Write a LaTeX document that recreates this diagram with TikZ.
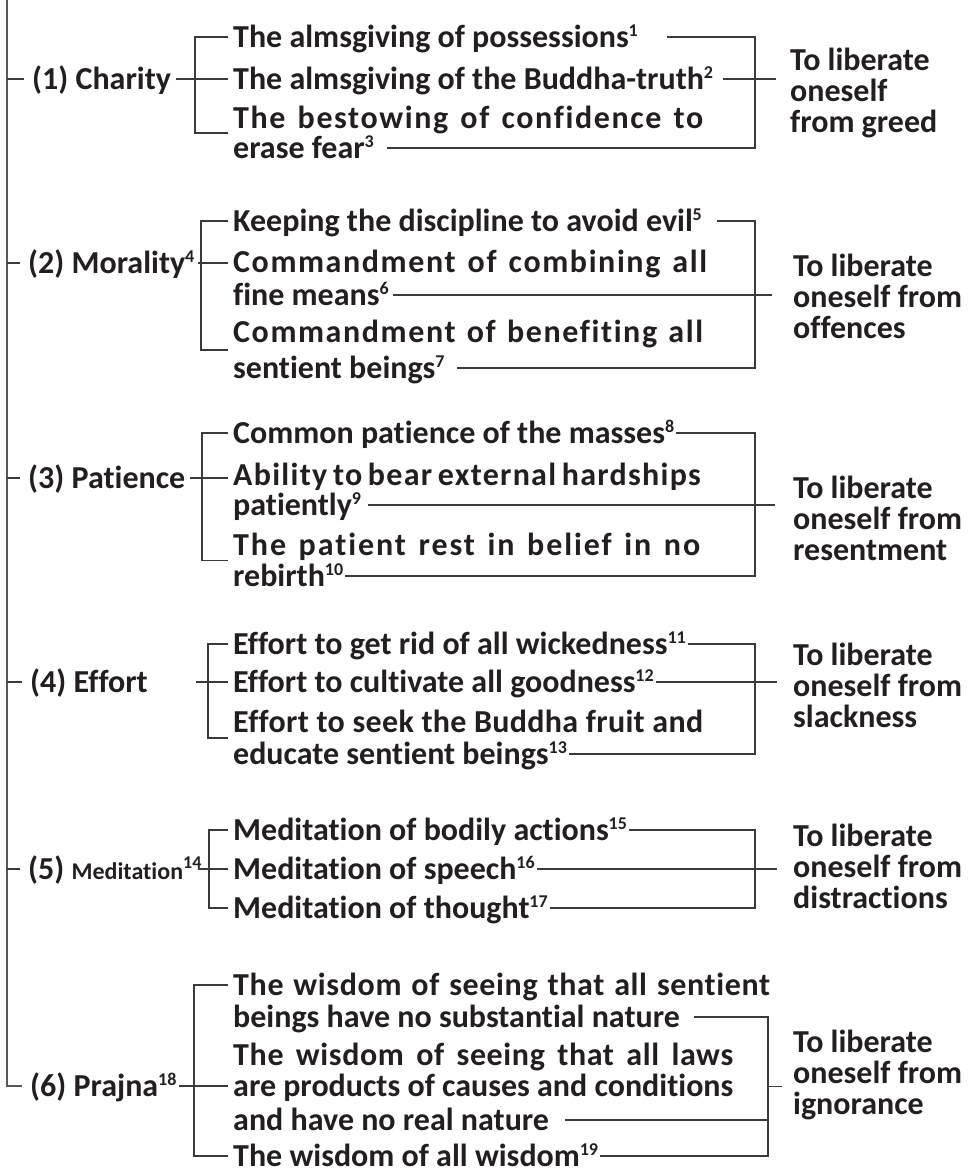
\documentclass[tikz,border=0pt]{standalone}
\usepackage{fontspec}
\setmainfont{Carlito}[Ligatures={NoCommon}]
\usetikzlibrary{calc}
\definecolor{ink}{HTML}{231F20}
\definecolor{rule}{HTML}{3A3A3A}
\newcommand{\fn}[1]{\raisebox{11pt}{\fontsize{18}{18}\selectfont #1}}
\newcommand{\spread}[3]{\makebox[#2][s]{\addfontfeature{LetterSpace=#1}#3}}
\tikzset{
  txt/.style={anchor=west,inner sep=0pt,text height=20pt,text depth=0pt,text=ink,font=\fontsize{32}{38}\selectfont\bfseries},
  res/.style={anchor=north west,inner sep=0pt,align=left,text=ink,font=\fontsize{32}{31}\selectfont\bfseries},
  ln/.style={draw=rule,line width=1.3pt},
  spine/.style={draw=black!65,line width=2pt}
}
\begin{document}
\begin{tikzpicture}[x=1pt,y=-1pt]
\useasboundingbox[fill=white] (0,0) rectangle (972,1173);

\node[txt] (cat1) at (32,79) {(1) Charity};
\node[txt] (cat2) at (28,263) {(2) Morality\fn{4}};
\node[txt] (cat3) at (28,478) {(3) Patience};
\node[txt] (cat4) at (30,682) {(4) Effort};
\node[txt] (cat5) at (28,869) {(5) {\fontsize{24}{28}\selectfont Meditation}\fn{14}};
\node[txt] (cat6) at (30,1086) {(6) Prajna\fn{18}};

\coordinate (spine) at (7,0);
\draw[spine] (spine) |- ([xshift=-8pt]cat6.west);
\foreach \n in {cat1,cat2,cat3,cat4,cat5}
  \draw[ln] (spine |- \n.west) -- ([xshift=-8pt]\n.west);

\node[txt] (a1) at (233,37) {The almsgiving of possessions\fn{1}};
\node[txt] (a2) at (233,79) {The almsgiving of the Buddha-truth\fn{2}};
\node[txt] (a3) at (233,118) {\spread{5}{470pt}{The bestowing of confidence to}};
\node[txt] (a3b) at (233,148) {erase fear\fn{3}};
\node[res] (r1) at (790,48) {To liberate\\oneself\\from greed};
\coordinate (ra) at (755,0);
\draw[ln] ([xshift=5pt]cat1.east) -- ([xshift=-5pt]a2.west);
\draw[ln] ([xshift=-5pt]a1.west) -- ++(-33,0) |- ($(a3.west)!.5!(a3b.west)+(-5,0)$);
\draw[ln] ([xshift=29pt]a1.east) -| (ra |- a3b.east) -- ([xshift=13pt]a3b.east);
\draw[ln] ([xshift=10pt]a2.east) -- ([xshift=-14pt]r1.west |- a2.east);

\node[txt] (b1) at (233,221) {Keeping the discipline to avoid evil\fn{5}};
\node[txt] (b2) at (233,262) {\spread{5}{474pt}{Commandment of combining all}};
\node[txt] (b2b) at (233,295) {fine means\fn{6}};
\node[txt] (b3) at (233,332) {\spread{5}{470pt}{Commandment of benefiting all}};
\node[txt] (b3b) at (233,368) {sentient beings\fn{7}};
\node[res] (r2) at (793,254) {To liberate\\oneself from\\offences};
\coordinate (rb) at (755,0);
\draw[ln] ([xshift=3pt]cat2.east) -- ([xshift=-5pt]b2.west |- cat2.east);
\draw[ln] ([xshift=-5pt]b1.west) -- ++(-27,0) |- ($(b3.west)!.5!(b3b.west)+(-5,0)$);
\draw[ln] ([xshift=15pt]b1.east) -| (rb |- b3b.east) -- ([xshift=12pt]b3b.east);
\draw[ln] ([xshift=4pt]b2b.east) -- ([xshift=-21pt]r2.west |- b2b.east);

\node[txt] (c1) at (233,433) {Common patience of the masses\fn{8}};
\node[txt] (c2) at (233,475) {\spread{4}{467pt}{Ability to bear external hardships}};
\node[txt] (c2b) at (233,505) {patiently\fn{9}};
\node[txt] (c3) at (233,545) {\spread{6}{467pt}{The patient rest in belief in no}};
\node[txt] (c3b) at (233,576) {rebirth\fn{10}};
\node[res] (r3) at (793,476) {To liberate\\oneself from\\resentment};
\coordinate (rc) at (755,0);
\draw[ln] ([xshift=5pt]cat3.east) -- ([xshift=-5pt]c2.west |- cat3.east);
\draw[ln] ([xshift=-5pt]c1.west) -- ++(-26,0) |- ($(c3.west)!.5!(c3b.west)+(-5,0)$);
\draw[ln] ([xshift=2pt]c1.east) -| (rc |- c3b.east) -- ([xshift=2pt]c3b.east);
\draw[ln] ([xshift=7pt]c2b.east) -- ([xshift=-18pt]r3.west |- c2b.east);

\node[txt] (e1) at (233,644) {Effort to get rid of all wickedness\fn{11}};
\node[txt] (e2) at (233,682) {Effort to cultivate all goodness\fn{12}};
\node[txt] (e3) at (233,722) {\spread{1}{470pt}{Effort to seek the Buddha fruit and}};
\node[txt] (e3b) at (233,754) {educate sentient beings\fn{13}};
\node[res] (r4) at (793,643) {To liberate\\oneself from\\slackness};
\coordinate (re) at (755,0);
\draw[ln] ([xshift=48pt]cat4.east) -- ([xshift=-5pt]e2.west);
\draw[ln] ([xshift=-5pt]e1.west) -- ++(-20,0) |- ($(e3.west)!.5!(e3b.west)+(-5,0)$);
\draw[ln] ([xshift=2pt]e1.east) -| (re |- e3b.east) -- ([xshift=2pt]e3b.east);
\draw[ln] ([xshift=2pt]e2.east) -- ([xshift=-16pt]r4.west |- e2.east);

\node[txt] (m1) at (233,830) {Meditation of bodily actions\fn{15}};
\node[txt] (m2) at (233,869) {Meditation of speech\fn{16}};
\node[txt] (m3) at (233,908) {Meditation of thought\fn{17}};
\node[res] (r5) at (793,824) {To liberate\\oneself from\\distractions};
\coordinate (rm) at (755,0);
\draw[ln] ([xshift=-4pt]cat5.east) -- ([xshift=-5pt]m2.west);
\draw[ln] ([xshift=-5pt]m1.west) -- ++(-19,0) |- ([xshift=-5pt]m3.west);
\draw[ln] ([xshift=2pt]m1.east) -| (rm |- m3.east) -- ([xshift=2pt]m3.east);
\draw[ln] ([xshift=2pt]m2.east) -- ([xshift=-16pt]r5.west |- m2.east);

\node[txt] (f1) at (233,985) {\spread{2}{537pt}{The wisdom of seeing that all sentient}};
\node[txt] (f1b) at (233,1017) {beings have no substantial nature};
\node[txt] (f2) at (233,1055) {\spread{2}{500pt}{The wisdom of seeing that all laws}};
\node[txt] (f2b) at (233,1086) {are products of causes and conditions};
\node[txt] (f2c) at (233,1120) {and have no real nature};
\node[txt] (f3) at (233,1156) {The wisdom of all wisdom\fn{19}};
\node[res] (r6) at (793,1030) {To liberate\\oneself from\\ignorance};
\coordinate (rf) at (768,0);
\coordinate (fm) at ($(f1b.east)!.5!(f3.east)$);
\draw[ln] ([xshift=2pt]cat6.east) -- ([xshift=-5pt]f2b.west);
\draw[ln] ([xshift=-5pt]f1.west) -- ++(-34,0) |- ([xshift=-5pt]f3.west);
\draw[ln] ([xshift=14pt]f1b.east) -| (rf |- f3.east) -- ([xshift=2pt]f3.east);
\draw[ln] ([xshift=16pt]f2c.east) -- (rf |- f2c.east);
\draw[ln] (rf |- fm) -- ++(14,0);
\end{tikzpicture}
\end{document}
